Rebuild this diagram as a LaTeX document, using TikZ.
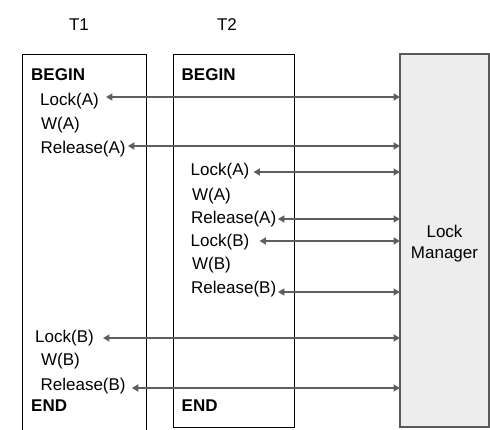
\documentclass[tikz,border=0pt]{standalone}
\usepackage{fontspec}
\setmainfont{Liberation Sans}
\usetikzlibrary{arrows.meta}
\definecolor{linkgray}{HTML}{5E5E5E}
\definecolor{mgrfill}{HTML}{EDEDED}
\definecolor{mgrline}{HTML}{595959}
\tikzset{
  txt/.style={anchor=base west, inner sep=0pt, font=\fontsize{17}{21}\selectfont},
  kw/.style={txt, font=\fontsize{17}{21}\selectfont\bfseries},
  title/.style={anchor=base, inner sep=0pt, font=\fontsize{17}{21}\selectfont},
  txbox/.style={draw=black, line width=0.9pt},
  mgrbox/.style={draw=mgrline, fill=mgrfill, line width=1.1pt, inner sep=0pt, outer sep=0pt},
  link/.style={draw=linkgray, line width=2pt,
    {Triangle[length=6.5pt,width=7pt]}-{Triangle[length=6.5pt,width=7pt]}}
}
\begin{document}
\begin{tikzpicture}[x=1pt, y=-1pt]
\useasboundingbox (0,0) rectangle (490,430);

% transaction headings
\node[title] (h1) at (79,31) {T1};
\node[title] (h2) at (227,31) {T2};

% transaction columns (T1 runs off the bottom)
\draw[txbox] (22,431) -- (22,54) -- (146,54) -- (146,431);
\node[txbox, anchor=north west, minimum width=121pt, minimum height=373pt, inner sep=0pt, outer sep=0pt] (t2box) at (173,54) {};

% lock manager
\node[mgrbox, anchor=north west, minimum width=89pt, minimum height=373pt] (mgr) at (400,54) {};
\node[align=center, inner sep=0pt, font=\fontsize{17}{21}\selectfont] (mgrlabel) at ([yshift=-3pt]mgr.center) {Lock\\Manager};

% T1 steps
\node[kw]  (beg1)  at (31,81)    {BEGIN};
\node[txt] (lockA1) at (40,106)  {Lock(A)};
\node[txt] (wA1)    at (41,129.3) {W(A)};
\node[txt] (relA1)  at (40.4,153.3) {Release(A)};
\node[txt] (lockB1) at (35,342.7) {Lock(B)};
\node[txt] (wB1)    at (41,366)  {W(B)};
\node[txt] (relB1)  at (40.4,390) {Release(B)};
\node[kw]  (end1)  at (31,411.7) {END};

% T2 steps
\node[kw]  (beg2)  at (181.5,81) {BEGIN};
\node[txt] (lockA2) at (190.5,176) {Lock(A)};
\node[txt] (wA2)    at (192,200.7) {W(A)};
\node[txt] (relA2)  at (191,223.3) {Release(A)};
\node[txt] (lockB2) at (190.5,246.7) {Lock(B)};
\node[txt] (wB2)    at (192,270) {W(B)};
\node[txt] (relB2)  at (191,294) {Release(B)};
\node[kw]  (end2)  at (181.5,411.7) {END};

% request / grant exchanges with the lock manager
\coordinate (p1) at ([xshift=7pt, yshift=9pt]lockA1.base east);
\coordinate (p2) at ([xshift=2pt, yshift=7.3pt]relA1.base east);
\coordinate (p3) at ([xshift=4pt, yshift=4pt]lockA2.base east);
\coordinate (p4) at ([xshift=1.5pt, yshift=4.3pt]relA2.base east);
\coordinate (p5) at ([xshift=10pt, yshift=5.7pt]lockB2.base east);
\coordinate (p6) at ([xshift=1.5pt, yshift=2pt]relB2.base east);
\coordinate (p7) at ([xshift=9pt, yshift=4.7pt]lockB1.base east);
\coordinate (p8) at ([xshift=6pt, yshift=2pt]relB1.base east);
\foreach \p in {p1,p2,p3,p4,p5,p6,p7,p8}
  \draw[link] (\p) -- (\p -| mgr.west);
\end{tikzpicture}
\end{document}
